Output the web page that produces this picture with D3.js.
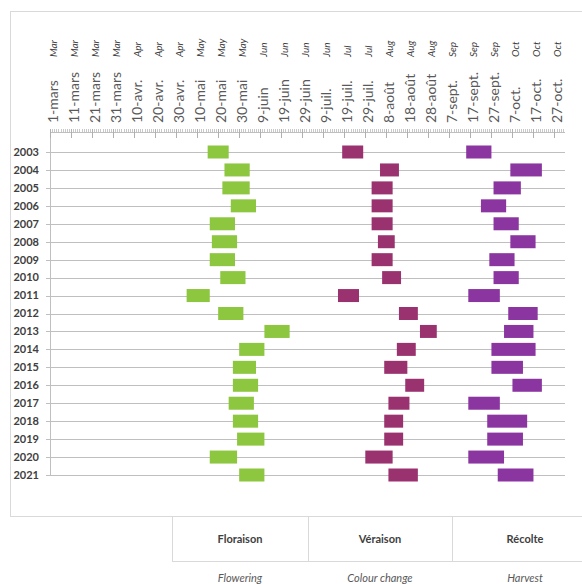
<!DOCTYPE html>
<html>
<head>
<meta charset="utf-8">
<script src="https://cdn.jsdelivr.net/npm/d3@7"></script>
<style>
  html, body { margin: 0; padding: 0; background: #fff; }
  svg { display: block; font-family: Lato, "Open Sans", sans-serif; }
</style>
</head>
<body>
<div id="chart"></div>
<script>
// years (rows)
const years = [2003, 2004, 2005, 2006, 2007, 2008, 2009, 2010, 2011, 2012,
  2013, 2014, 2015, 2016, 2017, 2018, 2019, 2020, 2021];

// flowering / floraison (MM-DD)
const flowerStart = ['05-15', '05-23', '05-22', '05-26', '05-16', '05-17', '05-16', '05-21', '05-05', '05-20',
  '06-11', '05-30', '05-27', '05-27', '05-25', '05-27', '05-29', '05-16', '05-30'];
const flowerEnd = ['05-25', '06-04', '06-04', '06-07', '05-28', '05-29', '05-28', '06-02', '05-16', '06-01',
  '06-23', '06-11', '06-07', '06-08', '06-06', '06-08', '06-11', '05-29', '06-11'];

// colour change / veraison
const veraisonStart = ['07-18', '08-05', '08-01', '08-01', '08-01', '08-04', '08-01', '08-06', '07-16', '08-14',
  '08-24', '08-13', '08-07', '08-17', '08-09', '08-07', '08-07', '07-29', '08-09'];
const veraisonEnd = ['07-28', '08-14', '08-11', '08-11', '08-11', '08-12', '08-11', '08-15', '07-26', '08-23',
  '09-01', '08-22', '08-18', '08-26', '08-19', '08-16', '08-16', '08-11', '08-23'];

// harvest / recolte
const harvestStart = ['09-15', '10-06', '09-28', '09-22', '09-28', '10-06', '09-26', '09-28', '09-16', '10-05',
  '10-03', '09-27', '09-27', '10-07', '09-16', '09-25', '09-25', '09-16', '09-30'];
const harvestEnd = ['09-27', '10-21', '10-11', '10-04', '10-10', '10-18', '10-08', '10-10', '10-01', '10-19',
  '10-17', '10-18', '10-12', '10-21', '10-01', '10-14', '10-12', '10-03', '10-17'];

// axis ticks
const tickDays = ['03-01', '03-11', '03-21', '03-31', '04-10', '04-20', '04-30', '05-10', '05-20', '05-30',
  '06-09', '06-19', '06-29', '07-09', '07-19', '07-29', '08-08', '08-18', '08-28', '09-07',
  '09-17', '09-27', '10-07', '10-17', '10-27'];
const frTicks = ['1-mars', '11-mars', '21-mars', '31-mars', '10-avr.', '20-avr.', '30-avr.', '10-mai', '20-mai', '30-mai',
  '9-juin', '19-juin', '29-juin', '9-juil.', '19-juil.', '29-juil.', '8-août', '18-août', '28-août', '7-sept.',
  '17-sept.', '27-sept.', '7-oct.', '17-oct.', '27-oct.'];
const enTicks = ['Mar', 'Mar', 'Mar', 'Mar', 'Apr', 'Apr', 'Apr', 'May', 'May', 'May',
  'Jun', 'Jun', 'Jun', 'Jun', 'Jul', 'Jul', 'Aug', 'Aug', 'Aug', 'Sep',
  'Sep', 'Sep', 'Oct', 'Oct', 'Oct'];

const phaseFr = ['Floraison', 'Véraison', 'Récolte'];
const phaseEn = ['Flowering', 'Colour change', 'Harvest'];
const phaseColors = ['#8dc63f', '#9b3270', '#8b35a0'];

const parseDay = d3.timeParse('%Y-%m-%d');
const day = (s) => parseDay('2021-' + s);

const width = 582, height = 584;
const svg = d3.select('#chart').append('svg')
  .attr('width', width)
  .attr('height', height);

// frame
svg.append('rect')
  .attr('x', 10.5).attr('y', 11.5)
  .attr('width', 600).attr('height', 505)
  .attr('fill', 'none').attr('stroke', '#d9d9d9');

const x = d3.scaleTime()
  .domain([day('03-01'), day('11-01')])
  .range([50, 565]);
const y = d3.scalePoint()
  .domain(years)
  .range([152, 475]);
const axisY = 132;
const barH = 13;

// gridlines per year
svg.append('g').attr('class', 'grid')
  .selectAll('line').data(years).enter()
  .append('line')
  .attr('x1', 46).attr('x2', x.range()[1])
  .attr('y1', (d) => Math.round(y(d)) + 0.5)
  .attr('y2', (d) => Math.round(y(d)) + 0.5)
  .attr('stroke', '#bfbfbf');

// y axis line
svg.append('line')
  .attr('x1', 50.5).attr('x2', 50.5)
  .attr('y1', axisY).attr('y2', 476)
  .attr('stroke', '#bfbfbf');

// year labels
svg.append('g').attr('class', 'years')
  .selectAll('text').data(years).enter()
  .append('text')
  .attr('x', 39)
  .attr('y', (d) => y(d))
  .attr('dy', '0.35em')
  .attr('text-anchor', 'end')
  .attr('font-size', '11px')
  .attr('font-weight', 'bold')
  .attr('fill', '#404040')
  .text((d) => d);

// date axis
const axis = svg.append('g').attr('class', 'x axis');
axis.append('line')
  .attr('x1', x.range()[0]).attr('x2', x.range()[1])
  .attr('y1', axisY + 0.5).attr('y2', axisY + 0.5)
  .attr('stroke', '#bfbfbf');
axis.selectAll('line.minor')
  .data(d3.timeDay.range(day('03-01'), day('11-01')))
  .enter().append('line')
  .attr('class', 'minor')
  .attr('x1', (d) => Math.round(x(d)) + 0.5).attr('x2', (d) => Math.round(x(d)) + 0.5)
  .attr('y1', axisY - 3).attr('y2', axisY)
  .attr('stroke', '#c8c8c8');
axis.selectAll('line.major')
  .data(tickDays.map(day))
  .enter().append('line')
  .attr('class', 'major')
  .attr('x1', (d) => Math.round(x(d)) + 0.5).attr('x2', (d) => Math.round(x(d)) + 0.5)
  .attr('y1', axisY - 3).attr('y2', axisY + 6)
  .attr('stroke', '#b0b0b0');

// french tick labels
axis.selectAll('text.fr')
  .data(tickDays).enter()
  .append('text')
  .attr('class', 'fr')
  .attr('transform', (d) => `translate(${x(day(d)) + 3},${axisY - 9}) rotate(-90)`)
  .attr('dy', '0.35em')
  .attr('text-anchor', 'start')
  .attr('font-size', '14px')
  .attr('fill', '#595959')
  .text((d, i) => frTicks[i]);

// english month labels
axis.selectAll('text.en')
  .data(tickDays).enter()
  .append('text')
  .attr('class', 'en')
  .attr('transform', (d) => `translate(${x(day(d)) + 3},57) rotate(-90)`)
  .attr('dy', '0.35em')
  .attr('text-anchor', 'start')
  .attr('font-size', '10px')
  .attr('font-style', 'italic')
  .attr('fill', '#404040')
  .text((d, i) => enTicks[i]);

// bars
const phases = [
  { starts: flowerStart, ends: flowerEnd },
  { starts: veraisonStart, ends: veraisonEnd },
  { starts: harvestStart, ends: harvestEnd },
];
phases.forEach((p, k) => {
  svg.append('g').attr('class', 'phase-' + k)
    .selectAll('rect').data(years).enter()
    .append('rect')
    .attr('x', (d, i) => x(day(p.starts[i])))
    .attr('y', (d) => y(d) - barH / 2)
    .attr('width', (d, i) => x(day(p.ends[i])) - x(day(p.starts[i])))
    .attr('height', barH)
    .attr('fill', phaseColors[k]);
});

// table below
const cols = [172, 308, 452, 598];
const table = svg.append('g').attr('class', 'table');
table.append('line')
  .attr('x1', cols[0]).attr('x2', width)
  .attr('y1', 561.5).attr('y2', 561.5)
  .attr('stroke', '#d9d9d9');
cols.slice(0, 3).forEach((c) => {
  table.append('line')
    .attr('x1', c + 0.5).attr('x2', c + 0.5)
    .attr('y1', 516).attr('y2', 562)
    .attr('stroke', '#d9d9d9');
});
phaseFr.forEach((t, i) => {
  const cx = (cols[i] + cols[i + 1]) / 2;
  table.append('text')
    .attr('x', cx).attr('y', 539)
    .attr('dy', '0.35em')
    .attr('text-anchor', 'middle')
    .attr('font-size', '11px')
    .attr('font-weight', 'bold')
    .attr('fill', '#404040')
    .text(t);
  table.append('text')
    .attr('x', cx).attr('y', 578)
    .attr('dy', '0.35em')
    .attr('text-anchor', 'middle')
    .attr('font-size', '11px')
    .attr('font-style', 'italic')
    .attr('fill', '#595959')
    .text(phaseEn[i]);
});
</script>
</body>
</html>
